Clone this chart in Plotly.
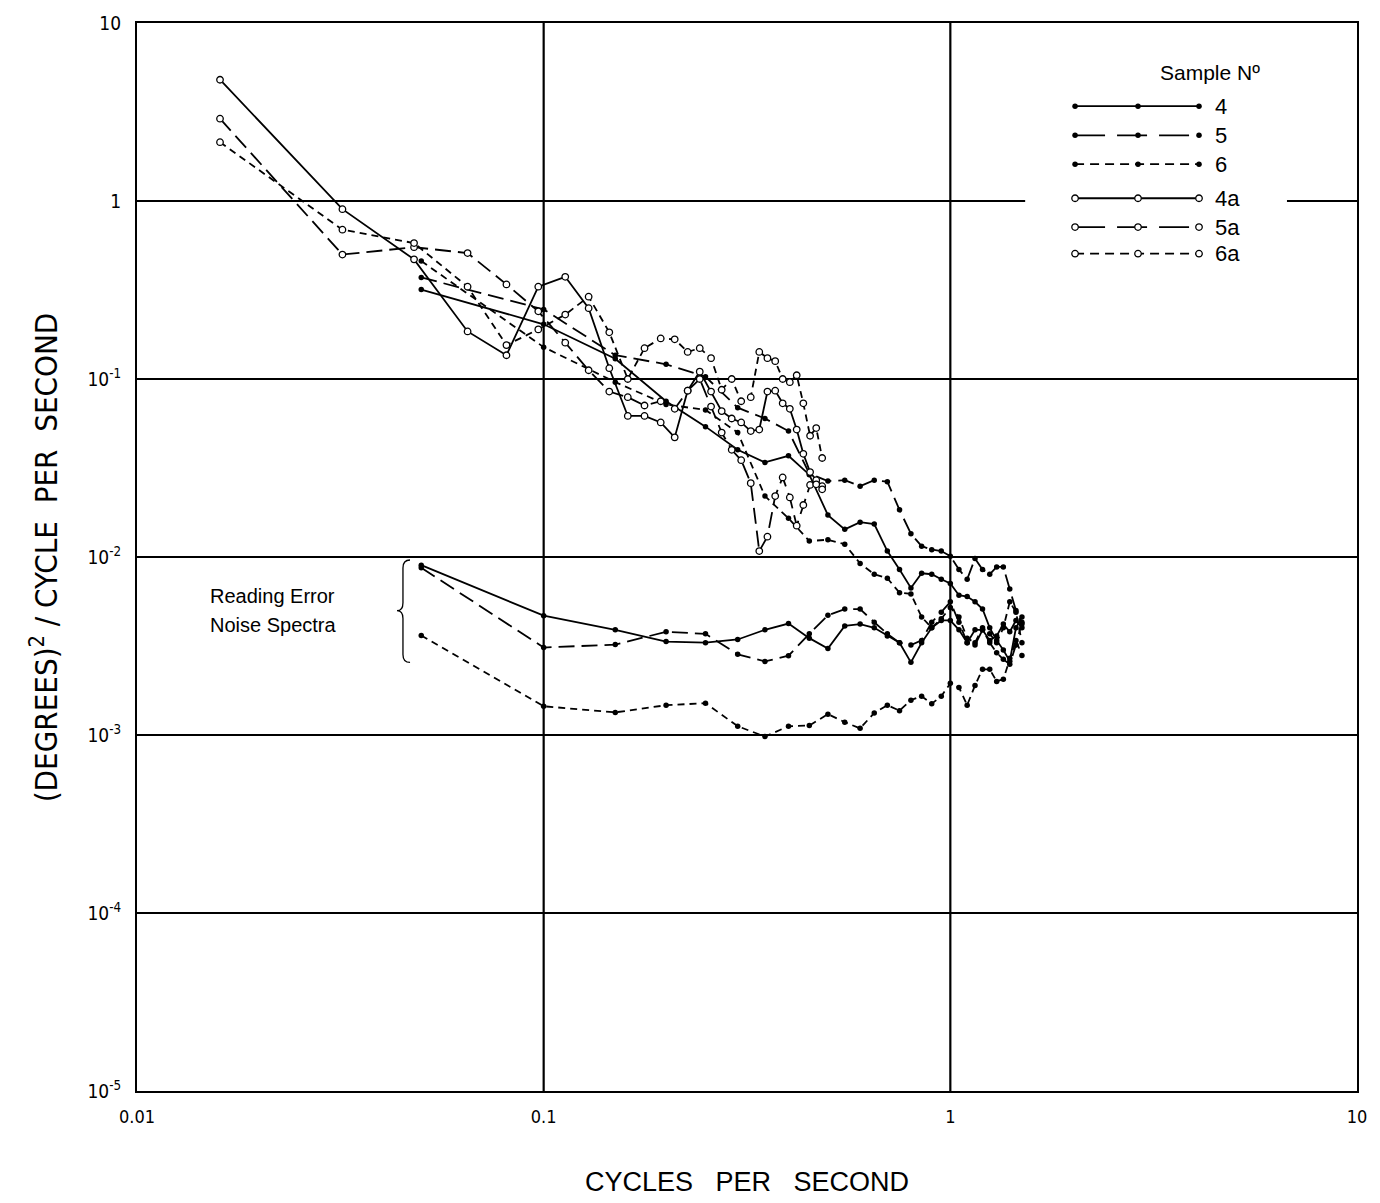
import plotly.graph_objects as go

# ---------------- data ----------------
FREQ_A = [0.016, 0.032, 0.048, 0.065, 0.081, 0.097, 0.113, 0.129, 0.145, 0.161,
          0.177, 0.194, 0.210, 0.226, 0.242, 0.258, 0.274, 0.290, 0.306, 0.323,
          0.339, 0.355, 0.371, 0.387, 0.403, 0.419, 0.435, 0.452, 0.468, 0.484]
FREQ = [0.05, 0.10, 0.15, 0.20, 0.25, 0.30, 0.35, 0.40, 0.45, 0.50,
        0.55, 0.60, 0.65, 0.70, 0.75, 0.80, 0.85, 0.90, 0.95, 1.00,
        1.05, 1.10, 1.15, 1.20, 1.25, 1.30, 1.35, 1.40, 1.45, 1.50]

S4A = [4.8, 0.90, 0.47, 0.185, 0.136, 0.33, 0.375, 0.25, 0.115, 0.062,
       0.062, 0.057, 0.047, 0.086, 0.11, 0.085, 0.066, 0.060, 0.057, 0.051,
       0.052, 0.085, 0.086, 0.073, 0.068, 0.052, 0.038, 0.030, 0.027, 0.025]
S5A = [2.9, 0.50, 0.55, 0.51, 0.34, 0.24, 0.16, 0.112, 0.085, 0.079,
       0.071, 0.075, 0.068, 0.086, 0.10, 0.07, 0.05, 0.04, 0.035, 0.026,
       0.0108, 0.013, 0.022, 0.028, 0.0216, 0.015, 0.0196, 0.0254, 0.0256, 0.024]
S6A = [2.14, 0.69, 0.58, 0.33, 0.155, 0.19, 0.23, 0.29, 0.183, 0.10,
       0.149, 0.169, 0.167, 0.142, 0.149, 0.131, 0.087, 0.10, 0.075, 0.079,
       0.142, 0.131, 0.126, 0.10, 0.096, 0.105, 0.073, 0.048, 0.053, 0.036]

S4 = [0.318, 0.203, 0.13, 0.075, 0.054, 0.040, 0.034, 0.037, 0.029, 0.0172,
      0.0143, 0.0157, 0.0153, 0.0108, 0.0085, 0.0067, 0.0081, 0.0080, 0.0075, 0.0071,
      0.0061, 0.0060, 0.0056, 0.0051, 0.0040, 0.0034, 0.0030, 0.0026, 0.0040, 0.0046]
S5 = [0.372, 0.246, 0.136, 0.121, 0.103, 0.069, 0.060, 0.051, 0.0294, 0.0267,
      0.027, 0.025, 0.027, 0.0265, 0.0184, 0.0135, 0.0115, 0.011, 0.0108, 0.0101,
      0.0085, 0.0075, 0.0098, 0.0085, 0.0080, 0.0088, 0.0088, 0.0066, 0.0050, 0.0042]
S6 = [0.46, 0.151, 0.096, 0.072, 0.067, 0.050, 0.022, 0.0165, 0.0123, 0.0125,
      0.0118, 0.0092, 0.0080, 0.0076, 0.0063, 0.0062, 0.0046, 0.0040, 0.0045, 0.0052,
      0.0046, 0.0035, 0.0033, 0.0040, 0.0037, 0.0033, 0.0040, 0.0056, 0.0049, 0.0033]

N4 = [0.0090, 0.00468, 0.0039, 0.00335, 0.0033, 0.00344, 0.0039, 0.00423, 0.0035, 0.00306,
      0.0041, 0.0042, 0.0040, 0.0036, 0.0033, 0.00256, 0.0033, 0.0040, 0.0044, 0.0044,
      0.0039, 0.0033, 0.0039, 0.0039, 0.0034, 0.0036, 0.0042, 0.0038, 0.0044, 0.0040]
N5 = [0.0087, 0.0031, 0.00322, 0.0038, 0.0037, 0.00284, 0.00259, 0.00279, 0.0037, 0.0047,
      0.0051, 0.0051, 0.0043, 0.0037, 0.0033, 0.0032, 0.0034, 0.0043, 0.0049, 0.0056,
      0.0043, 0.0033, 0.0032, 0.0039, 0.0033, 0.0029, 0.00266, 0.0025, 0.0032, 0.0043]
N6 = [0.00362, 0.00145, 0.00134, 0.00147, 0.00151, 0.00112, 0.00098, 0.00112, 0.00113, 0.00131,
      0.00118, 0.00109, 0.00133, 0.00147, 0.00137, 0.00157, 0.00165, 0.0015, 0.00165, 0.00195,
      0.00185, 0.00147, 0.0019, 0.00234, 0.00234, 0.002, 0.00206, 0.0027, 0.0034, 0.0028]

X_TICKS = [0.01, 0.1, 1, 10]
X_TICKTEXT = ["0.01", "0.1", "1", "10"]
Y_TICKS = [1e-5, 1e-4, 1e-3, 1e-2, 1e-1, 1, 10]
Y_TICKTEXT = ["10<sup>-5</sup>", "10<sup>-4</sup>", "10<sup>-3</sup>", "10<sup>-2</sup>",
              "10<sup>-1</sup>", "1", "10"]
LEGEND_LABELS = ["4", "5", "6", "4a", "5a", "6a"]

# ---------------- styles ----------------
FONT = "Liberation Sans, Arial, sans-serif"
NARROW = "Liberation Sans Narrow, DejaVu Sans Condensed, Liberation Sans, sans-serif"
SOLID = "solid"
LONG = "16px,7px"
SHORT = "7px,5px"
LW = 1.8
FILLED = dict(symbol="circle", size=5.5, color="black", line=dict(width=0))
OPEN = dict(symbol="circle", size=6.5, color="white", line=dict(color="black", width=1.3))

fig = go.Figure()

def add(x, y, dash, marker):
    fig.add_trace(go.Scatter(x=x, y=y, mode="lines+markers",
                             line=dict(color="black", width=LW, dash=dash),
                             marker=marker, showlegend=False, hoverinfo="skip",
                             cliponaxis=False))

add(FREQ, N4, SOLID, FILLED)
add(FREQ, N5, LONG, FILLED)
add(FREQ, N6, SHORT, FILLED)
add(FREQ, S4, SOLID, FILLED)
add(FREQ, S5, LONG, FILLED)
add(FREQ, S6, SHORT, FILLED)
add(FREQ_A, S4A, SOLID, OPEN)
add(FREQ_A, S5A, LONG, OPEN)
add(FREQ_A, S6A, SHORT, OPEN)

# ---------------- custom legend (overlay axes in 0..1 units) ----------------
leg_x = [0.7689, 0.8205, 0.8705]
leg_rows = [0.9221, 0.8948, 0.8678, 0.8359, 0.8089, 0.7840]
leg_styles = [(SOLID, FILLED), ("30px,12px", FILLED), ("9px,6px", FILLED),
              (SOLID, OPEN), ("30px,12px", OPEN), ("9px,6px", OPEN)]
for yy, (dash, mk) in zip(leg_rows, leg_styles):
    fig.add_trace(go.Scatter(x=leg_x, y=[yy] * 3, mode="lines+markers",
                             xaxis="x2", yaxis="y2",
                             line=dict(color="black", width=LW, dash=dash),
                             marker=mk, showlegend=False, hoverinfo="skip"))

annotations = []
for yy, lab in zip(leg_rows, LEGEND_LABELS):
    annotations.append(dict(x=0.882, y=yy, xref="paper", yref="paper", text=lab,
                            showarrow=False, xanchor="left", yanchor="middle",
                            font=dict(family=FONT, size=22, color="black")))
annotations.append(dict(x=0.8795, y=0.9535, xref="paper", yref="paper", text="Sample Nº",
                        showarrow=False, xanchor="center", yanchor="middle",
                        font=dict(family=FONT, size=21, color="black")))
annotations.append(dict(x=0.0582, y=0.4637, xref="paper", yref="paper", text="Reading Error",
                        showarrow=False, xanchor="left", yanchor="middle",
                        font=dict(family=FONT, size=20, color="black")))
annotations.append(dict(x=0.0582, y=0.4367, xref="paper", yref="paper", text="Noise Spectra",
                        showarrow=False, xanchor="left", yanchor="middle",
                        font=dict(family=FONT, size=20, color="black")))
annotations.append(dict(x=0.5, y=-0.085, xref="paper", yref="paper",
                        text="CYCLES&nbsp;&nbsp; PER&nbsp;&nbsp; SECOND",
                        showarrow=False, xanchor="center", yanchor="middle",
                        font=dict(family=FONT, size=27, color="black")))
annotations.append(dict(x=-0.076, y=0.5, xref="paper", yref="paper",
                        text="(DEGREES)<sup>2</sup> / CYCLE  PER  SECOND", textangle=-90,
                        showarrow=False, xanchor="center", yanchor="middle",
                        font=dict(family=NARROW, size=31, color="black")))

# ---------------- grid lines and brace as shapes ----------------
shapes = []
GRID = dict(color="black", width=2.2)
for xp in [1 / 3, 2 / 3]:
    shapes.append(dict(type="line", xref="paper", yref="paper", x0=xp, x1=xp, y0=0, y1=1,
                       line=GRID, layer="below"))
for yp in [1 / 6, 2 / 6, 3 / 6, 4 / 6]:
    shapes.append(dict(type="line", xref="paper", yref="paper", x0=0, x1=1, y0=yp, y1=yp,
                       line=GRID, layer="below"))
# y = 1 line interrupted by the legend
shapes.append(dict(type="line", xref="paper", yref="paper", x0=0, x1=0.728, y0=5 / 6, y1=5 / 6,
                   line=GRID, layer="below"))
shapes.append(dict(type="line", xref="paper", yref="paper", x0=0.9426, x1=1, y0=5 / 6, y1=5 / 6,
                   line=GRID, layer="below"))
brace = ("M 0.2238,0.4972 Q 0.2180,0.4972 0.2180,0.4898 L 0.2180,0.4572 "
         "Q 0.2180,0.4497 0.2131,0.4497 Q 0.2180,0.4497 0.2180,0.4423 "
         "L 0.2180,0.4088 Q 0.2180,0.4013 0.2238,0.4013")
shapes.append(dict(type="path", xref="paper", yref="paper", path=brace,
                   line=dict(color="black", width=1.3)))

fig.update_layout(
    width=1380, height=1203,
    margin=dict(l=137, r=23, t=17, b=112),
    paper_bgcolor="white", plot_bgcolor="rgba(0,0,0,0)",
    showlegend=False,
    xaxis=dict(type="log", range=[-2, 1], showgrid=False, zeroline=False,
               showline=True, mirror=True, linecolor="black", linewidth=2.2,
               ticks="", tickvals=X_TICKS, ticktext=X_TICKTEXT, ticklabelstandoff=8,
               tickfont=dict(family=NARROW, size=18, color="black")),
    yaxis=dict(type="log", range=[-5, 1], showgrid=False, zeroline=False,
               showline=True, mirror=True, linecolor="black", linewidth=2.2,
               ticks="", tickvals=Y_TICKS, ticktext=Y_TICKTEXT, ticklabelstandoff=10,
               tickfont=dict(family=NARROW, size=19, color="black")),
    xaxis2=dict(range=[0, 1], overlaying="x", anchor="y", visible=False, fixedrange=True),
    yaxis2=dict(range=[0, 1], overlaying="y", anchor="x", visible=False, fixedrange=True),
    annotations=annotations,
    shapes=shapes,
)

fig.write_html("out.html")
